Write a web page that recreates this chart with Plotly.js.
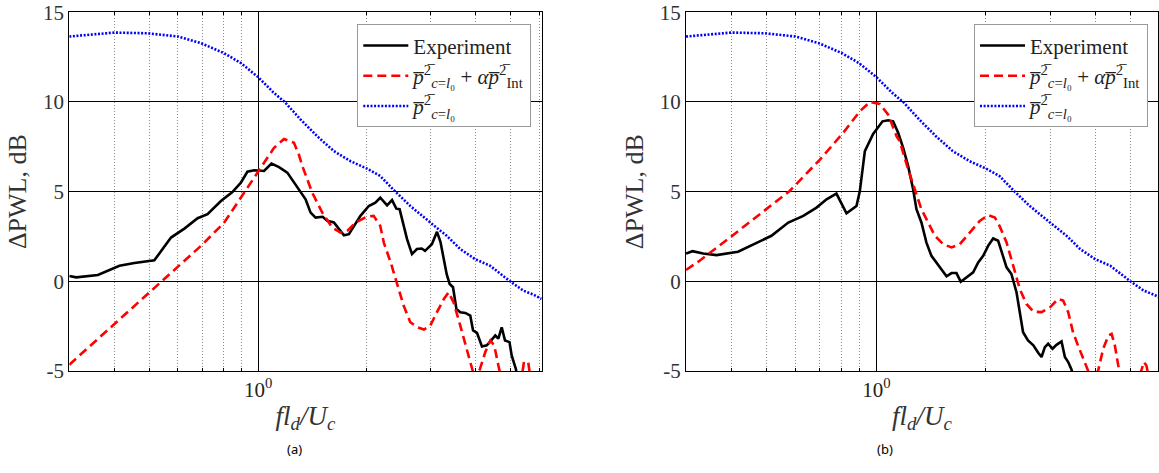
<!DOCTYPE html>
<html><head><meta charset="utf-8">
<script src="https://cdn.plot.ly/plotly-3.0.1.min.js"></script>
<style>
html,body{margin:0;padding:0;background:#fff}
#chart svg text{font-family:'Liberation Serif' !important;}
#chart svg .annotation text{font-family:'Noto Sans' !important;}
</style>
</head><body>
<div id="chart" style="width:1159px;height:473px"></div>
<script>
// ---------- data ----------
const OV = '\u0305';
const pbar2 = '<i>p' + OV + '</i><sup>2' + OV + '</sup>';
const seriesNames = ['Experiment',
  pbar2 + '<sub><i>c</i>=<i>l</i>\u2080</sub> + <i>\u03b1</i>' + pbar2 + '<sub>Int</sub>',
  pbar2 + '<sub><i>c</i>=<i>l</i>\u2080</sub>'];

// p^2_{c=l0} (same in both panels)
const blueX = [0.3,0.40,0.494,0.599,0.695,0.805,0.896,1.0,1.107,1.185,1.312,1.458,1.622,1.803,2.004,2.18,2.40,2.64,3.0,3.33,3.63,3.99,4.39,4.99,5.43,5.8,6.1];
const blueY = [13.65,13.87,13.83,13.65,13.28,12.72,12.17,11.39,10.5,10.0,9.02,8.09,7.26,6.70,6.28,5.87,5.0,4.20,3.28,2.54,1.80,1.24,0.87,0.0,-0.52,-0.75,-0.98];

// panel (a)
const expAX = [0.3,0.3135,0.36,0.413,0.4545,0.516,0.574,0.625,0.68,0.7245,0.789,0.849,0.896,0.934,0.975,1.039,1.089,1.143,1.205,1.271,1.354,1.398,1.443,1.51,1.555,1.622,1.69,1.729,1.785,1.921,2.026,2.113,2.18,2.277,2.35,2.415,2.466,2.586,2.669,2.754,2.84,2.90,3.03,3.13,3.20,3.27,3.33,3.394,3.467,3.543,3.63,3.75,3.87,3.94,4.04,4.17,4.30,4.40,4.54,4.63,4.73,4.83,4.97,5.04,5.18,5.25];
const expAY = [0.3,0.22,0.35,0.87,1.02,1.17,2.44,2.94,3.52,3.74,4.48,4.98,5.50,6.11,6.19,6.15,6.57,6.37,6.06,5.35,4.57,3.83,3.55,3.6,3.37,3.28,2.81,2.57,2.63,3.65,4.2,4.39,4.66,4.24,4.53,4.05,4.02,2.35,1.52,1.8,1.83,1.70,2.07,2.76,2.2,1.3,0.4,-0.15,-0.33,-1.54,-1.72,-1.76,-1.91,-2.74,-2.87,-3.63,-3.57,-3.35,-3.02,-3.20,-2.56,-3.30,-3.39,-4.13,-4.91,-5.6];

const modAX = [0.3,0.4545,0.538,0.695,0.806,0.915,0.996,1.107,1.18,1.257,1.297,1.326,1.413,1.506,1.605,1.692,1.766,1.862,2.004,2.09,2.18,2.23,2.33,2.43,2.53,2.64,2.76,2.88,3.0,3.13,3.27,3.37,3.48,3.63,3.75,3.87,3.94,4.0,4.12,4.26,4.40,4.51,4.63,4.70,5.0,5.35,5.45,5.6,5.7,6.0];
const modAY = [-4.65,-1.35,-0.06,1.98,3.28,4.94,6.05,7.44,7.94,7.72,7.07,6.43,4.94,3.83,3.0,2.72,2.81,3.28,3.61,3.65,3.09,2.16,1.05,-0.24,-1.35,-2.28,-2.56,-2.69,-2.46,-1.72,-0.98,-0.61,-1.17,-2.46,-3.57,-4.5,-5.06,-5.5,-4.87,-3.94,-3.30,-3.57,-4.69,-5.3,-7.0,-5.6,-4.5,-4.5,-5.6,-7.0];

// panel (b)
const expBX = [0.3,0.3126,0.3344,0.364,0.417,0.459,0.515,0.573,0.63,0.685,0.73,0.777,0.828,0.882,0.901,0.930,0.980,1.040,1.078,1.112,1.148,1.185,1.223,1.262,1.289,1.33,1.373,1.417,1.463,1.51,1.559,1.609,1.66,1.706,1.769,1.845,1.905,1.966,2.028,2.094,2.161,2.23,2.279,2.35,2.427,2.478,2.53,2.61,2.70,2.784,2.843,2.904,2.965,3.048,3.126,3.227,3.296,3.366,3.436,3.5];
const expBY = [1.55,1.68,1.55,1.46,1.65,2.04,2.54,3.28,3.65,4.11,4.57,4.89,3.79,4.20,5.03,7.26,8.22,8.92,8.98,8.92,8.28,7.44,6.42,5.13,4.02,3.28,2.16,1.42,1.02,0.68,0.28,0.46,0.46,-0.02,0.22,0.5,1.05,1.42,1.98,2.39,2.26,1.42,0.78,0.41,-0.61,-1.72,-2.84,-3.30,-3.57,-3.98,-4.22,-3.67,-3.48,-3.76,-3.54,-3.35,-4.22,-4.5,-4.91,-5.5];

const modBX = [0.3,0.327,0.396,0.479,0.578,0.70,0.811,0.901,0.96,1.022,1.078,1.136,1.16,1.223,1.276,1.33,1.388,1.448,1.526,1.609,1.696,1.807,1.924,2.028,2.116,2.18,2.279,2.377,2.478,2.585,2.70,2.843,3.0,3.16,3.26,3.366,3.47,3.58,3.70,3.78,3.82,3.95,4.07,4.20,4.34,4.43,4.52,4.62,4.7,5.0,5.35,5.43,5.52,5.6,5.9];
const modBY = [0.63,1.15,2.44,3.74,5.04,6.79,8.28,9.48,10.0,9.89,9.29,8.1,7.8,6.24,5.13,4.02,3.28,2.54,2.07,1.89,2.07,2.72,3.37,3.69,3.56,3.09,2.17,0.87,-0.43,-1.26,-1.69,-1.72,-1.45,-0.98,-1.07,-1.72,-2.84,-3.57,-4.31,-4.87,-5.0,-5.6,-4.96,-3.76,-3.02,-2.93,-3.57,-4.69,-5.3,-7.0,-5.0,-4.5,-4.69,-5.3,-7.0];

// axes / labels
const xMajorTicks = [1];
const xMajorLabels = ['10<sup>0</sup>'];
const xMinorTicks = [0.4,0.5,0.6,0.7,0.8,0.9,2,3,4,5,6];
const yTicks = [-5,0,5,10,15];
const yLabels = ['-5','0','5','10','15'];
const xTitle = '<i>fl</i><sub><i>d</i></sub><i>/U</i><sub><i>c</i></sub>';
const yTitle = '\u0394PWL, dB';
const panelLabels = ['(a)','(b)'];

// ---------- figure ----------
const W = 1159, H = 473;
const SERIF = 'Liberation Serif';
const styles = [
  {color:'#000000', width:2.6, dash:'solid'},
  {color:'#ff0000', width:2.6, dash:'9px,5px'},
  {color:'#0000ff', width:2.6, dash:'2px,1.6px'}
];
function mk(x, y, i, xa, ya, lg) {
  return {x:x, y:y, type:'scatter', mode:'lines', name:seriesNames[i], xaxis:xa, yaxis:ya,
          line:Object.assign({}, styles[i]), legend:lg, showlegend:true};
}
const data = [
  mk(expAX, expAY, 0, 'x', 'y', 'legend'),
  mk(modAX, modAY, 1, 'x', 'y', 'legend'),
  mk(blueX, blueY, 2, 'x', 'y', 'legend'),
  mk(expBX, expBY, 0, 'x2', 'y2', 'legend2'),
  mk(modBX, modBY, 1, 'x2', 'y2', 'legend2'),
  mk(blueX, blueY, 2, 'x2', 'y2', 'legend2')
];

function xax(domain, range, anchor) {
  return {type:'log', domain:domain, range:range, anchor:anchor,
    tickvals:xMajorTicks, ticktext:xMajorLabels, tickmode:'array',
    showgrid:true, gridcolor:'#000', gridwidth:1, zeroline:false,
    minor:{tickvals:xMinorTicks, showgrid:true, gridcolor:'#8a8a8a', griddash:'1px,2px', gridwidth:1,
           ticks:'inside', ticklen:3, tickcolor:'#000'},
    showline:true, linecolor:'#000', linewidth:1, mirror:'ticks',
    ticks:'inside', ticklen:5, tickcolor:'#000',
    tickfont:{family:SERIF, size:21, color:'#222'},
    title:{text:xTitle, font:{family:SERIF, size:27, color:'#333'}, standoff:4},
    automargin:false};
}
function yax(domain, anchor) {
  return {domain:domain, range:[-5,15], anchor:anchor,
    tickvals:yTicks, ticktext:yLabels, tickmode:'array',
    showgrid:true, gridcolor:'#000', gridwidth:1, zeroline:false,
    showline:true, linecolor:'#000', linewidth:1, mirror:'ticks',
    ticks:'inside', ticklen:5, tickcolor:'#000',
    tickfont:{family:SERIF, size:21, color:'#333'},
    title:{text:yTitle, font:{family:SERIF, size:26, color:'#333'}, standoff:8},
    automargin:false};
}
const yDom = [1 - 371/H, 1 - 12.3/H];
function leg(xpx) {
  return {x:xpx/W, y:1-24.3/H, xanchor:'left', yanchor:'top', bgcolor:'#fff',
          bordercolor:'#999', borderwidth:1, itemwidth:45,
          font:{family:SERIF, size:21, color:'#222'}, tracegroupgap:0};
}
const layout = {
  width:W, height:H, margin:{l:0,r:0,t:0,b:0},
  font:{family:SERIF, size:21, color:'#222'},
  paper_bgcolor:'#fff', plot_bgcolor:'#fff',
  xaxis: xax([69.3/W, 541.7/W], [Math.log10(0.3), 0.7856], 'y'),
  yaxis: yax(yDom, 'x'),
  xaxis2: xax([686/W, 1158/W], [Math.log10(0.3), 0.7738], 'y2'),
  yaxis2: yax(yDom, 'x2'),
  legend: leg(357.3),
  legend2: leg(974),
  annotations:[
    {text:panelLabels[0], xref:'paper', yref:'paper', x:285/W, y:1-460/H, showarrow:false,
     font:{family:'Noto Sans', size:13, color:'#000'}},
    {text:panelLabels[1], xref:'paper', yref:'paper', x:895/W, y:1-460/H, showarrow:false,
     font:{family:'Noto Sans', size:13, color:'#000'}}
  ],
  showlegend:true
};
Plotly.newPlot('chart', data, layout, {displayModeBar:false});
</script>
</body></html>
